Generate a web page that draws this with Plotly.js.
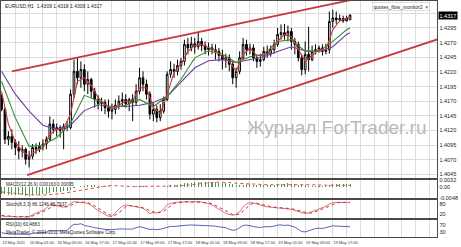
<!DOCTYPE html>
<html><head><meta charset="utf-8">
<script src="https://cdn.plot.ly/plotly-3.0.1.min.js"></script>
<style>html,body{margin:0;padding:0;background:#fff;overflow:hidden}#chart{width:461px;height:247px}</style>
</head><body><div id="chart"></div>
<script>
// ---- EURUSD H1, bar index 0 = 13 May 2011 17:00 ----
const openP = [1.4176,1.4156,1.4105,1.4110,1.4100,1.4091,1.4085,1.4088,1.4071,1.4076,
1.4091,1.4088,1.4093,1.4097,1.4105,1.4131,1.4122,1.4125,1.4120,1.4127,
1.4125,1.4182,1.4221,1.4210,1.4224,1.4199,1.4207,1.4187,1.4173,1.4166,
1.4168,1.4159,1.4153,1.4156,1.4163,1.4170,1.4173,1.4166,1.4173,1.4168,
1.4187,1.4210,1.4199,1.4182,1.4148,1.4156,1.4142,1.4153,1.4173,1.4216,
1.4224,1.4221,1.4231,1.4238,1.4267,1.4261,1.4268,1.4263,1.4272,1.4265,
1.4258,1.4261,1.4258,1.4255,1.4248,1.4241,1.4244,1.4233,1.4210,1.4221,
1.4244,1.4267,1.4258,1.4261,1.4244,1.4238,1.4241,1.4255,1.4251,1.4258,
1.4267,1.4284,1.4287,1.4282,1.4289,1.4272,1.4267,1.4244,1.4224,1.4250,
1.4241,1.4255,1.4258,1.4261,1.4255,1.4258,1.4306,1.4312,1.4309,1.4311,
1.4307,1.4309];
const highP = [1.4182,1.4159,1.4119,1.4122,1.4105,1.4102,1.4095,1.4091,1.4085,1.4097,
1.4098,1.4100,1.4105,1.4110,1.4144,1.4139,1.4132,1.4129,1.4132,1.4136,
1.4190,1.4241,1.4244,1.4238,1.4233,1.4221,1.4210,1.4193,1.4180,1.4176,
1.4173,1.4173,1.4166,1.4173,1.4180,1.4185,1.4182,1.4176,1.4182,1.4199,
1.4227,1.4221,1.4207,1.4187,1.4168,1.4163,1.4165,1.4178,1.4221,1.4238,
1.4234,1.4241,1.4244,1.4275,1.4278,1.4280,1.4278,1.4287,1.4278,1.4272,
1.4270,1.4268,1.4267,1.4261,1.4258,1.4251,1.4250,1.4238,1.4227,1.4255,
1.4278,1.4275,1.4268,1.4267,1.4250,1.4251,1.4263,1.4265,1.4265,1.4275,
1.4295,1.4301,1.4302,1.4299,1.4295,1.4278,1.4272,1.4250,1.4272,1.4297,
1.4265,1.4267,1.4265,1.4267,1.4268,1.4323,1.4326,1.4323,1.4318,1.4316,
1.4316,1.4318];
const lowP = [1.4153,1.4097,1.4095,1.4088,1.4078,1.4071,1.4074,1.4062,1.4057,1.4071,
1.4080,1.4083,1.4086,1.4088,1.4102,1.4115,1.4110,1.4108,1.4088,1.4119,
1.4122,1.4176,1.4199,1.4193,1.4187,1.4182,1.4176,1.4159,1.4156,1.4153,
1.4148,1.4142,1.4139,1.4148,1.4156,1.4161,1.4159,1.4153,1.4136,1.4163,
1.4182,1.4187,1.4173,1.4139,1.4136,1.4134,1.4136,1.4149,1.4170,1.4210,
1.4210,1.4214,1.4224,1.4231,1.4250,1.4255,1.4251,1.4258,1.4255,1.4250,
1.4248,1.4250,1.4241,1.4238,1.4224,1.4227,1.4221,1.4199,1.4193,1.4216,
1.4241,1.4248,1.4250,1.4238,1.4227,1.4229,1.4238,1.4244,1.4246,1.4251,
1.4263,1.4275,1.4275,1.4272,1.4258,1.4250,1.4238,1.4214,1.4216,1.4221,
1.4238,1.4250,1.4253,1.4248,1.4250,1.4251,1.4295,1.4302,1.4306,1.4304,
1.4306,1.4309];
const closeP = [1.4156,1.4105,1.4110,1.4100,1.4091,1.4085,1.4088,1.4071,1.4076,1.4091,
1.4088,1.4093,1.4097,1.4105,1.4131,1.4122,1.4125,1.4120,1.4127,1.4125,
1.4182,1.4221,1.4210,1.4224,1.4199,1.4207,1.4187,1.4173,1.4166,1.4168,
1.4159,1.4153,1.4156,1.4163,1.4170,1.4173,1.4166,1.4173,1.4168,1.4187,
1.4210,1.4199,1.4182,1.4148,1.4156,1.4142,1.4153,1.4173,1.4216,1.4224,
1.4221,1.4231,1.4238,1.4267,1.4261,1.4268,1.4263,1.4272,1.4265,1.4258,
1.4261,1.4258,1.4255,1.4248,1.4241,1.4244,1.4233,1.4210,1.4221,1.4244,
1.4267,1.4258,1.4261,1.4244,1.4238,1.4241,1.4255,1.4251,1.4258,1.4267,
1.4284,1.4287,1.4282,1.4289,1.4272,1.4267,1.4244,1.4224,1.4250,1.4241,
1.4255,1.4258,1.4261,1.4255,1.4258,1.4306,1.4312,1.4309,1.4311,1.4307,
1.4312,1.4317];

// moving averages
const maFastIdx = [0,2,4,6,8,10,12,14,16,18,20,22,24,26,28,30,32,34,36,38,40,42,44,46,48,50,52,54,56,58,60,62,64,66,68,70,72,74,76,78,80,82,84,86,88,90,92,94,96,98,100,101];
const maFast = [1.4187,1.4131,1.4100,1.4085,1.4076,1.4085,1.4091,1.4113,1.4122,1.4124,1.4148,1.4204,1.4210,1.4197,1.4176,1.4165,1.4156,1.4163,1.4170,1.4171,1.4193,1.4193,1.4159,1.4149,1.4182,1.4219,1.4233,1.4255,1.4265,1.4267,1.4261,1.4256,1.4246,1.4238,1.4221,1.4250,1.4260,1.4248,1.4248,1.4255,1.4272,1.4284,1.4280,1.4258,1.4238,1.4248,1.4258,1.4258,1.4292,1.4307,1.4311,1.4314];
const maSlowIdx = [0,4,8,12,16,20,24,28,32,36,40,44,48,52,56,60,64,68,72,76,80,84,88,92,96,100,101];
const maMid = [1.4204,1.4142,1.4093,1.4095,1.4108,1.4132,1.4180,1.4171,1.4158,1.4163,1.4173,1.4161,1.4178,1.4207,1.4244,1.4256,1.4250,1.4236,1.4246,1.4250,1.4272,1.4275,1.4255,1.4255,1.4272,1.4292,1.4295];
const maSlow = [1.4221,1.4182,1.4153,1.4129,1.4122,1.4129,1.4154,1.4164,1.4161,1.4161,1.4163,1.4168,1.4178,1.4202,1.4227,1.4239,1.4241,1.4236,1.4241,1.4246,1.4255,1.4263,1.4256,1.4255,1.4263,1.4284,1.4287];

// channel trendlines (anchor points: bar index, price)
const chanUpperIdx = [3, 112];
const chanUpperPx = [1.4221, 1.4356];
const chanLowerIdx = [7.4, 126.5];
const chanLowerPx = [1.4044, 1.4276];

// MACD(12,26,9)
const macdMain = [-0.0030,-0.0033,-0.0035,-0.0036,-0.0037,-0.0038,-0.0038,-0.0039,-0.0039,-0.0037,
-0.0036,-0.0034,-0.0032,-0.0030,-0.0026,-0.0024,-0.0022,-0.0021,-0.0019,-0.0018,
-0.0012,-0.0005,0.0001,0.0006,0.0008,0.0010,0.0010,0.0009,0.0008,0.0007,
0.0006,0.0004,0.0003,0.0003,0.0003,0.0003,0.0003,0.0003,0.0003,0.0004,
0.0006,0.0006,0.0005,0.0002,0.0001,0.0000,0.0000,0.0002,0.0006,0.0009,
0.0011,0.0013,0.0015,0.0018,0.0020,0.0022,0.0023,0.0025,0.0025,0.0025,
0.0024,0.0024,0.0023,0.0022,0.0020,0.0019,0.0017,0.0014,0.0012,0.0012,
0.0013,0.0014,0.0014,0.0013,0.0012,0.0011,0.0011,0.0011,0.0011,0.0012,
0.0014,0.0016,0.0017,0.0018,0.0017,0.0016,0.0013,0.0010,0.0009,0.0008,
0.0008,0.0008,0.0008,0.0008,0.0008,0.0012,0.0014,0.0015,0.0016,0.0016,
0.0016,0.00163];
const macdSignal = [-0.0022,-0.0024,-0.0026,-0.0028,-0.0030,-0.0032,-0.0033,-0.0034,-0.0035,-0.0036,
-0.0037,-0.0037,-0.0036,-0.0036,-0.0035,-0.0033,-0.0032,-0.0030,-0.0028,-0.0025,
-0.0023,-0.0020,-0.0017,-0.0014,-0.0011,-0.0008,-0.0005,-0.0002,0.0002,0.0005,
0.0007,0.0008,0.0008,0.0007,0.0006,0.0005,0.0004,0.0004,0.0003,0.0003,
0.0004,0.0004,0.0004,0.0004,0.0004,0.0003,0.0003,0.0003,0.0003,0.0004,
0.0005,0.0006,0.0007,0.0009,0.0011,0.0013,0.0015,0.0017,0.0019,0.0021,
0.0022,0.0023,0.0024,0.0024,0.0024,0.0023,0.0022,0.0021,0.0019,0.0018,
0.0016,0.0015,0.0014,0.0014,0.0013,0.0013,0.0013,0.0012,0.0012,0.0012,
0.0012,0.0012,0.0013,0.0014,0.0015,0.0015,0.0015,0.0015,0.0014,0.0013,
0.0012,0.0011,0.0010,0.0009,0.0009,0.0009,0.0009,0.0009,0.0010,0.0010,
0.0010,0.00095];

// Stochastic(8,3,3)
const stochK = [12,8,10,8,7,6,8,5,7,20,
28,35,42,55,75,72,68,62,60,65,
82,90,88,90,85,80,70,55,40,30,
20,10,8,30,50,65,72,70,65,60,
58,55,40,25,30,28,35,50,75,82,
85,88,90,92,90,88,90,92,88,85,
80,72,62,50,38,25,18,15,20,35,
60,78,85,84,78,70,66,62,60,58,
60,58,55,52,48,42,35,28,25,28,
35,42,50,58,65,78,85,87,88,86,
86,86.12];
const stochD = [15,12,10,9,8,7,7,6,7,11,
18,28,35,44,57,67,72,67,63,62,
69,79,87,89,88,85,78,68,55,42,
30,20,13,16,29,48,62,69,69,65,
61,58,51,40,32,28,31,38,53,69,
81,85,88,90,91,90,89,90,90,88,
84,79,71,61,50,38,27,19,18,23,
38,58,74,82,82,77,71,66,63,60,
59,59,58,55,52,47,42,35,29,27,
29,35,42,50,58,67,76,83,87,87,
87,86.79];

// RSI
const rsiVals = [25,20,18,17,16,16,17,15,16,22,
22,24,26,28,38,36,36,35,38,38,
60,75,74,78,68,66,60,55,50,48,
45,42,43,45,47,48,46,48,47,55,
60,56,52,44,46,43,46,52,60,62,
62,64,66,72,70,71,70,72,70,66,
67,65,64,60,57,55,45,40,42,55,
68,70,68,62,58,56,60,59,61,64,
70,71,68,70,62,58,45,32,30,38,
45,50,52,50,55,62,66,64,63,62,
61,60.49];

// axis ticks
const timeTickIdx = [0,4,8,12,16,20,24,28,32,36,40,44,48,52,56,60,64,68,72,76,80,84,88,92,96,100,104,108,112,116,120,124];
const timeTickText = ['13 May 2011','','16 May 01:00','','16 May 09:00','','16 May 17:00','','17 May 01:00','','17 May 09:00','','17 May 17:00','','18 May 01:00','','18 May 09:00','','18 May 17:00','','19 May 01:00','','19 May 09:00','','19 May 17:00','','','','','','',''];
const priceTicks = [1.4045,1.4070,1.4095,1.4120,1.4145,1.4170,1.4195,1.4220,1.4245,1.4270,1.4295,1.4320];
const priceTickText = ['1.4045','1.4070','1.4095','1.4120','1.4145','1.4170','1.4195','1.4220','1.4245','1.4270','1.4295',''];
const macdTicks = [0.0032, 0, -0.0048];
const macdTickText = ['0.0032','0.00','-0.0048'];
const stochTicks = [80, 20];
const rsiTicks = [70, 30];

const barIdx = closeP.map((_, i) => i);

const FONT = 'Liberation Sans, Arial, sans-serif';
const gridC = '#dcdcdc';
const frameC = '#4a4a4a';

const traces = [
  {type:'candlestick', x:barIdx, open:openP, high:highP, low:lowP, close:closeP,
   increasing:{line:{color:'#000',width:1}, fillcolor:'#ffffff'},
   decreasing:{line:{color:'#000',width:1}, fillcolor:'#000000'},
   whiskerwidth:0, xaxis:'x', yaxis:'y', hoverinfo:'skip', showlegend:false},
  {type:'scatter', mode:'lines', x:maSlowIdx, y:maSlow, line:{color:'#6b3fa0',width:1.1}, xaxis:'x', yaxis:'y', showlegend:false, hoverinfo:'skip'},
  {type:'scatter', mode:'lines', x:maSlowIdx, y:maMid, line:{color:'#2f8f2f',width:1.1}, xaxis:'x', yaxis:'y', showlegend:false, hoverinfo:'skip'},
  {type:'scatter', mode:'lines', x:maFastIdx, y:maFast, line:{color:'#c83a3a',width:1.1}, xaxis:'x', yaxis:'y', showlegend:false, hoverinfo:'skip'},
  {type:'scatter', mode:'lines', x:chanUpperIdx, y:chanUpperPx, line:{color:'#c8383c',width:1.8}, xaxis:'x', yaxis:'y', showlegend:false, hoverinfo:'skip'},
  {type:'scatter', mode:'lines', x:chanLowerIdx, y:chanLowerPx, line:{color:'#c8383c',width:1.8}, xaxis:'x', yaxis:'y', showlegend:false, hoverinfo:'skip'},
  {type:'bar', x:barIdx, y:macdMain, width:0.3, marker:{color:'#4f9a4f', line:{width:0}}, xaxis:'x2', yaxis:'y2', showlegend:false, hoverinfo:'skip'},
  {type:'scatter', mode:'lines', x:barIdx, y:macdSignal, line:{color:'#e04848',width:1,dash:'dot'}, xaxis:'x2', yaxis:'y2', showlegend:false, hoverinfo:'skip'},
  {type:'scatter', mode:'lines', x:barIdx, y:stochK, line:{color:'#e07080',width:1}, xaxis:'x3', yaxis:'y3', showlegend:false, hoverinfo:'skip'},
  {type:'scatter', mode:'lines', x:barIdx, y:stochD, line:{color:'#c03030',width:1,dash:'dot'}, xaxis:'x3', yaxis:'y3', showlegend:false, hoverinfo:'skip'},
  {type:'scatter', mode:'lines', x:barIdx, y:rsiVals, line:{color:'#5565b8',width:1}, xaxis:'x4', yaxis:'y4', showlegend:false, hoverinfo:'skip'}
];

const xBase = {range:[-0.15,126.2], tickmode:'array', tickvals:timeTickIdx, ticktext:timeTickText,
  showgrid:true, gridcolor:gridC, gridwidth:1, zeroline:false, showline:true, mirror:true,
  linecolor:frameC, linewidth:1.3, ticks:'', fixedrange:true, showticklabels:false};
const yBase = {side:'right', showgrid:true, gridcolor:gridC, gridwidth:1, zeroline:false, showline:true,
  mirror:true, linecolor:frameC, linewidth:1.3, ticks:'', fixedrange:true,
  tickfont:{family:FONT, size:5.5, color:'#222'}, tickmode:'array'};

const layout = {
  width:461, height:247, margin:{l:1, r:24, t:1, b:10}, paper_bgcolor:'#fff', plot_bgcolor:'#fff',
  showlegend:false, bargap:0,
  xaxis: Object.assign({}, xBase, {anchor:'y', domain:[0,1], rangeslider:{visible:false}}),
  xaxis2: Object.assign({}, xBase, {anchor:'y2', matches:'x'}),
  xaxis3: Object.assign({}, xBase, {anchor:'y3', matches:'x'}),
  xaxis4: Object.assign({}, xBase, {anchor:'y4', matches:'x', showticklabels:true, tickangle:0,
    ticklabelposition:'outside right', ticklabelstandoff:1, tickfont:{family:FONT, size:4.0, color:'#333'}}),
  yaxis: Object.assign({}, yBase, {anchor:'x', domain:[0.25,1], range:[1.4039,1.4341], tickvals:priceTicks, ticktext:priceTickText}),
  yaxis2: Object.assign({}, yBase, {anchor:'x2', domain:[0.1653,0.2415], range:[-0.0050,0.0034], tickvals:macdTicks, ticktext:macdTickText, showgrid:false}),
  yaxis3: Object.assign({}, yBase, {anchor:'x3', domain:[0.0805,0.1568], range:[0,100], tickvals:stochTicks, ticktext:['80','20'], showgrid:false}),
  yaxis4: Object.assign({}, yBase, {anchor:'x4', domain:[0,0.072], range:[0,100], tickvals:rsiTicks, ticktext:['70','30'], showgrid:false}),
  annotations:[
    {xref:'paper', yref:'paper', x:0.005, y:1, xanchor:'left', yanchor:'top', showarrow:false,
     text:'EURUSD,H1  1.4309 1.4318 1.4309 1.4317', font:{family:FONT, size:5, color:'#222'}},
    {xref:'paper', yref:'paper', x:0.985, y:0.995, xanchor:'right', yanchor:'top', showarrow:false,
     text:'quotes_flow_monitor2  ×', font:{family:FONT, size:5, color:'#222'}, bgcolor:'#fff', bordercolor:'#bbb', borderwidth:0.5, borderpad:1},
    {xref:'paper', yref:'y', x:1.002, y:1.4317, xanchor:'left', yanchor:'middle', showarrow:false,
     text:'1.4317', font:{family:FONT, size:5.5, color:'#fff'}, bgcolor:'#000', borderpad:0.5},
    {xref:'paper', yref:'y', x:0.56, y:1.4125, xanchor:'left', yanchor:'middle', showarrow:false,
     text:'Журнал ForTrader.ru', font:{family:FONT, size:19, color:'#b9b9b9'}},
    {xref:'paper', yref:'y2 domain', x:0.006, y:1, xanchor:'left', yanchor:'top', showarrow:false,
     text:'MACD(12,26,9) 0.00163 0.00095', font:{family:FONT, size:4.6, color:'#222'}},
    {xref:'paper', yref:'y3 domain', x:0.006, y:1, xanchor:'left', yanchor:'top', showarrow:false,
     text:'Stoch(8,3,3) 86.1246 86.7937', font:{family:FONT, size:4.6, color:'#222'}},
    {xref:'paper', yref:'y4 domain', x:0.006, y:1, xanchor:'left', yanchor:'top', showarrow:false,
     text:'RSI(10) 60.4883', font:{family:FONT, size:4.6, color:'#222'}},
    {xref:'paper', yref:'y4 domain', x:0.006, y:0, xanchor:'left', yanchor:'bottom', showarrow:false,
     text:'MetaTrader, © 2001-2011 MetaQuotes Software Corp.', font:{family:FONT, size:4.6, color:'#222'}}
  ]
};

Plotly.newPlot('chart', traces, layout, {staticPlot:true, displayModeBar:false});
</script></body></html>
